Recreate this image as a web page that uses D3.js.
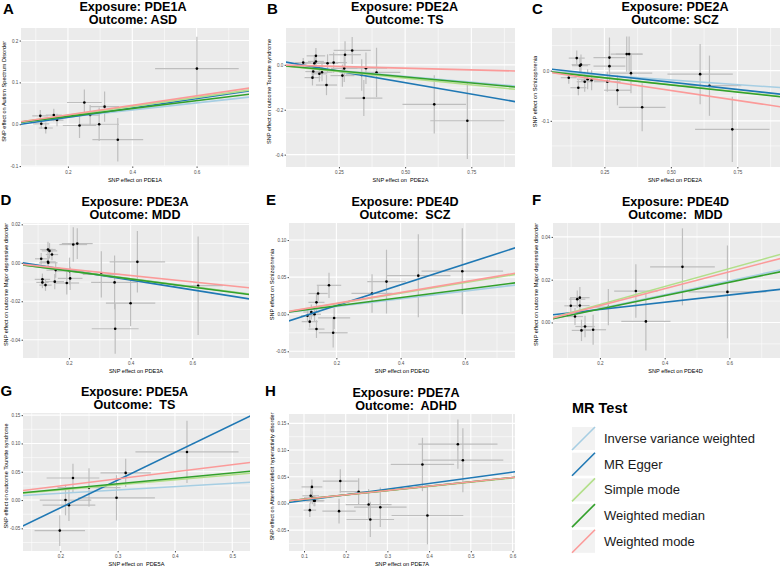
<!DOCTYPE html>
<html><head><meta charset="utf-8">
<script src="https://cdn.jsdelivr.net/npm/d3@7"></script>
<style>
body{margin:0;background:#fff;}
svg{display:block;font-family:"Liberation Sans",Arial,Helvetica,sans-serif;}
text{white-space:pre;}
</style></head><body>
<svg id="chart" width="780" height="566"></svg>
<script>
// ---------------- DATA ----------------
const methods = ["Inverse variance weighted","MR Egger","Simple mode","Weighted median","Weighted mode"];
const methodColors = ["#A6CEE3","#1F78B4","#B2DF8A","#33A02C","#FB9A99"];

// points: [beta exposure, beta outcome, se exposure, se outcome]
const ptsA = [[0.114,0.020,0.025,0.014],[0.117,0.001,0.025,0.012],[0.131,-0.009,0.022,0.013],[0.156,0.022,0.025,0.015],
  [0.166,0.010,0.020,0.015],[0.236,-0.003,0.052,0.030],[0.251,0.052,0.054,0.031],[0.269,0.022,0.030,0.024],
  [0.297,0.000,0.062,0.040],[0.314,0.042,0.045,0.036],[0.355,-0.037,0.079,0.052],[0.601,0.133,0.130,0.076]];
const ptsB = [[0.115,0.010,0.030,0.020],[0.153,-0.030,0.030,0.030],[0.150,-0.057,0.030,0.035],[0.157,0.007,0.040,0.030],
  [0.163,0.015,0.030,0.030],[0.163,0.040,0.035,0.035],[0.176,-0.040,0.030,0.035],[0.186,-0.033,0.040,0.040],
  [0.203,-0.090,0.040,0.045],[0.207,0.007,0.040,0.040],[0.230,0.010,0.050,0.045],[0.263,-0.048,0.045,0.050],
  [0.270,-0.016,0.050,0.060],[0.273,0.045,0.060,0.060],[0.300,0.064,0.070,0.060],[0.336,-0.045,0.060,0.070],
  [0.344,-0.148,0.070,0.080],[0.352,-0.015,0.080,0.070],[0.392,-0.034,0.090,0.110],[0.610,-0.176,0.120,0.130],
  [0.735,-0.249,0.140,0.170]];
const ptsC = [[0.116,-0.014,0.030,0.012],[0.146,0.025,0.030,0.015],[0.152,-0.034,0.030,0.015],[0.158,0.010,0.030,0.015],
  [0.162,0.012,0.035,0.020],[0.176,-0.022,0.030,0.020],[0.187,-0.017,0.040,0.020],[0.202,-0.019,0.040,0.020],
  [0.261,-0.022,0.050,0.020],[0.269,0.026,0.060,0.040],[0.269,0.009,0.060,0.030],[0.299,-0.039,0.050,0.030],
  [0.334,0.033,0.060,0.035],[0.343,0.033,0.050,0.035],[0.350,-0.005,0.080,0.040],[0.392,-0.073,0.088,0.048],
  [0.610,-0.007,0.123,0.060],[0.645,-0.030,0.120,0.060],[0.731,-0.117,0.140,0.065]];
const ptsD = [[0.110,0.0021,0.020,0.003],[0.114,-0.0086,0.025,0.003],[0.114,-0.0102,0.020,0.003],[0.124,-0.0116,0.020,0.003],
  [0.132,0.0069,0.025,0.004],[0.132,0.0005,0.025,0.003],[0.133,0.0000,0.030,0.003],[0.137,0.0062,0.025,0.004],
  [0.145,0.0043,0.020,0.003],[0.154,-0.0098,0.030,0.004],[0.157,-0.0038,0.030,0.004],[0.193,-0.0105,0.040,0.006],
  [0.202,-0.0043,0.045,0.007],[0.204,-0.0081,0.040,0.006],[0.214,0.0095,0.045,0.009],[0.227,0.0100,0.050,0.008],
  [0.305,-0.0060,0.060,0.012],[0.348,-0.0102,0.076,0.014],[0.350,-0.0343,0.076,0.013],[0.400,-0.0210,0.080,0.012],
  [0.422,0.0005,0.090,0.016],[0.619,-0.0119,0.080,0.0256]];
const ptsE = [[0.110,-0.002,0.020,0.008],[0.117,-0.010,0.025,0.008],[0.122,0.003,0.025,0.010],[0.132,0.000,0.020,0.010],
  [0.138,0.016,0.025,0.012],[0.138,-0.020,0.025,0.012],[0.143,0.028,0.030,0.010],[0.177,0.039,0.038,0.017],
  [0.193,-0.005,0.050,0.015],[0.190,-0.025,0.045,0.020],[0.311,0.028,0.064,0.026],[0.356,0.044,0.060,0.043],
  [0.455,0.052,0.100,0.056],[0.592,0.058,0.127,0.058]];
const ptsF = [[0.110,0.0078,0.020,0.004],[0.123,0.0028,0.025,0.004],[0.130,0.0109,0.025,0.004],[0.138,0.0116,0.030,0.005],
  [0.138,0.0079,0.030,0.004],[0.143,-0.0037,0.030,0.005],[0.154,-0.0019,0.030,0.005],[0.179,-0.0034,0.040,0.007],
  [0.226,0.0072,0.040,0.0085],[0.311,0.0147,0.067,0.0125],[0.342,0.0005,0.076,0.0136],[0.455,0.0260,0.100,0.018],
  [0.594,0.0143,0.120,0.0217]];
const ptsG = [[0.199,-0.054,0.044,0.027],[0.209,0.000,0.045,0.027],[0.215,-0.009,0.046,0.028],[0.222,0.039,0.046,0.025],
  [0.250,0.022,0.055,0.034],[0.298,0.004,0.067,0.040],[0.314,0.048,0.044,0.025],[0.421,0.085,0.090,0.055]];
const ptsH = [[0.114,-0.0125,0.015,0.013],[0.116,0.0144,0.020,0.015],[0.119,0.031,0.025,0.014],[0.120,0.0106,0.020,0.012],
  [0.124,0.005,0.025,0.010],[0.126,0.005,0.020,0.010],[0.184,-0.0144,0.040,0.023],[0.187,0.042,0.042,0.022],
  [0.231,0.022,0.045,0.025],[0.255,-0.002,0.055,0.029],[0.259,-0.030,0.057,0.033],[0.283,-0.007,0.063,0.037],
  [0.396,-0.0225,0.086,0.054],[0.384,0.073,0.076,0.050],[0.469,0.111,0.095,0.046],[0.481,0.081,0.097,0.060]];

// MR fits per method (same order as methods): [slope, intercept]
const fitA = [[0.085,0],[0.112,-0.006],[0.107,0],[0.094,0],[0.113,0]];
const fitB = [[-0.103,0],[-0.203,0.022],[-0.119,0],[-0.108,0],[-0.030,0]];
const fitC = [[-0.037,0],[-0.058,0.006],[-0.056,0],[-0.057,0],[-0.079,0]];
const fitD = [[-0.0207,0],[-0.0256,0.0013],[-0.0207,0],[-0.0210,0],[-0.0165,0]];
const fitE = [[0.052,0],[0.140,-0.0164],[0.071,0],[0.056,0],[0.073,0]];
const fitF = [[0.0324,0],[0.0169,0.0027],[0.042,0],[0.0313,0],[0.0395,0]];
const fitG = [[0.059,0],[0.489,-0.1115],[0.089,0],[0.096,0],[0.125,0]];
const fitH = [[0.081,0],[0.106,-0.0049],[0.080,0],[0.081,0],[0.081,0]];

// tick values and labels
const xTicksA = [0.2,0.4,0.6], xLabA = ["0.2","0.4","0.6"];
const yTicksA = [-0.1,0,0.1,0.2], yLabA = ["-0.1","0.0","0.1","0.2"];
const xTicksB = [0.25,0.5,0.75], xLabB = ["0.25","0.50","0.75"];
const yTicksB = [-0.4,-0.2,0], yLabB = ["-0.4","-0.2","0.0"];
const xTicksC = [0.25,0.5,0.75], xLabC = ["0.25","0.50","0.75"];
const yTicksC = [-0.1,0], yLabC = ["-0.1","0.0"];
const xTicksD = [0.2,0.4,0.6], xLabD = ["0.2","0.4","0.6"];
const yTicksD = [-0.04,-0.02,0,0.02], yLabD = ["-0.04","-0.02","0.00","0.02"];
const xTicksE = [0.2,0.4,0.6], xLabE = ["0.2","0.4","0.6"];
const yTicksE = [-0.05,0,0.05,0.1], yLabE = ["-0.05","0.00","0.05","0.10"];
const xTicksF = [0.2,0.4,0.6], xLabF = ["0.2","0.4","0.6"];
const yTicksF = [0,0.02,0.04], yLabF = ["0.00","0.02","0.04"];
const xTicksG = [0.2,0.3,0.4,0.5], xLabG = ["0.2","0.3","0.4","0.5"];
const yTicksG = [-0.05,0,0.05,0.1,0.15], yLabG = ["-0.05","0.00","0.05","0.10","0.15"];
const xTicksH = [0.1,0.2,0.3,0.4,0.5,0.6], xLabH = ["0.1","0.2","0.3","0.4","0.5","0.6"];
const yTicksH = [-0.05,0,0.05,0.1,0.15], yLabH = ["-0.05","0.00","0.05","0.10","0.15"];

// axis ranges (data units)
const xDomA = [0.054,0.763], yDomA = [-0.101,0.230];
const xDomB = [0.050,0.915], yDomB = [-0.455,0.164];
const xDomC = [0.053,0.978], yDomC = [-0.192,0.085];
const xDomD = [0.051,0.784], yDomD = [-0.0495,0.0207];
const xDomE = [0.0525,0.756], yDomE = [-0.059,0.123];
const xDomF = [0.055,0.812], yDomF = [-0.0166,0.0465];
const xDomG = [0.1348,0.531], yDomG = [-0.090,0.1538];
const xDomH = [0.064,0.606], yDomH = [-0.089,0.1675];

// ---------------- PANELS ----------------
const panels = [
 {letter:"A",exp:"PDE1A",out:"ASD",xt:"SNP effect on PDE1A",yt:"SNP effect on Autism Spectrum Disorder",pts:ptsA,fit:fitA,xd:xDomA,yd:yDomA,xt2:xTicksA,xl:xLabA,yt2:yTicksA,yl:yLabA,box:[21,28,249,166.5],lx:3,ly:14,tdx:-2},
 {letter:"B",exp:"PDE2A",out:"TS",xt:"SNP effect on  PDE2A",yt:"SNP effect on outcome Tourette syndrome",pts:ptsB,fit:fitB,xd:xDomB,yd:yDomB,xt2:xTicksB,xl:xLabB,yt2:yTicksB,yl:yLabB,box:[286,28,515,167],lx:267,ly:14,tdx:4},
 {letter:"C",exp:"PDE2A",out:"SCZ",xt:"SNP effect on PDE2A",yt:"SNP effect on Schizophrenia",pts:ptsC,fit:fitC,xd:xDomC,yd:yDomC,xt2:xTicksC,xl:xLabC,yt2:yTicksC,yl:yLabC,box:[552,28,798,167],lx:532,ly:14,tdx:0},
 {letter:"D",exp:"PDE3A",out:"MDD",xt:"SNP effect on PDE3A",yt:"SNP effect on outcome Major depressive disorder",pts:ptsD,fit:fitD,xd:xDomD,yd:yDomD,xt2:xTicksD,xl:xLabD,yt2:yTicksD,yl:yLabD,box:[23,223,249,358],lx:0.5,ly:205,tdx:-1},
 {letter:"E",exp:"PDE4D",out:" SCZ",xt:"SNP effect on PDE4D",yt:"SNP effect on Schizophrenia",pts:ptsE,fit:fitE,xd:xDomE,yd:yDomE,xt2:xTicksE,xl:xLabE,yt2:yTicksE,yl:yLabE,box:[289,223,515,358],lx:266,ly:205,tdx:3},
 {letter:"F",exp:"PDE4D",out:" MDD",xt:"SNP effect on PDE4D",yt:"SNP effect on outcome Major depressive disorder",pts:ptsF,fit:fitF,xd:xDomF,yd:yDomF,xt2:xTicksF,xl:xLabF,yt2:yTicksF,yl:yLabF,box:[553,223,798,358],lx:532,ly:205,tdx:0},
 {letter:"G",exp:"PDE5A",out:" TS",xt:"SNP effect on  PDE5A",yt:"SNP effect on outcome Tourette syndrome",pts:ptsG,fit:fitG,xd:xDomG,yd:yDomG,xt2:xTicksG,xl:xLabG,yt2:yTicksG,yl:yLabG,box:[23,413,250,551],lx:0.5,ly:396,tdx:-2},
 {letter:"H",exp:"PDE7A",out:" ADHD",xt:"SNP effect on PDE7A",yt:"SNP effect on Attention deficit hyperactivity disorder",pts:ptsH,fit:fitH,xd:xDomH,yd:yDomH,xt2:xTicksH,xl:xLabH,yt2:yTicksH,yl:yLabH,box:[289,414,515,551],lx:265,ly:396,tdx:4}
];

const svg = d3.select("#chart");
svg.append("rect").attr("width",780).attr("height",566).attr("fill","#fff");
const defs = svg.append("defs");

function minorOf(ticks, dom){
  const step = ticks.length>1 ? ticks[1]-ticks[0] : 0.1;
  const out = [];
  for (let v = ticks[0]-step/2; v <= dom[1]+1e-9; v += step) if (v >= dom[0]) out.push(v);
  return out;
}

panels.forEach((p,pi)=>{
  const [l,t,r,b] = p.box;
  const x = d3.scaleLinear().domain(p.xd).range([l,r]);
  const y = d3.scaleLinear().domain(p.yd).range([b,t]);
  const g = svg.append("g");
  const cid = "clip"+pi;
  defs.append("clipPath").attr("id",cid).append("rect").attr("x",l).attr("y",t).attr("width",r-l).attr("height",b-t);

  g.append("rect").attr("x",l).attr("y",t).attr("width",r-l).attr("height",b-t).attr("fill","#EBEBEB");
  const grid = g.append("g").attr("clip-path",`url(#${cid})`);
  minorOf(p.xt2,p.xd).forEach(v=>grid.append("line").attr("x1",x(v)).attr("x2",x(v)).attr("y1",t).attr("y2",b).attr("stroke","#fff").attr("stroke-width",0.55));
  minorOf(p.yt2,p.yd).forEach(v=>grid.append("line").attr("y1",y(v)).attr("y2",y(v)).attr("x1",l).attr("x2",r).attr("stroke","#fff").attr("stroke-width",0.55));
  p.xt2.forEach(v=>grid.append("line").attr("x1",x(v)).attr("x2",x(v)).attr("y1",t).attr("y2",b).attr("stroke","#fff").attr("stroke-width",1.1));
  p.yt2.forEach(v=>grid.append("line").attr("y1",y(v)).attr("y2",y(v)).attr("x1",l).attr("x2",r).attr("stroke","#fff").attr("stroke-width",1.1));

  const data = g.append("g").attr("clip-path",`url(#${cid})`);
  // error bars
  data.selectAll(".ev").data(p.pts).join("line")
    .attr("x1",d=>x(d[0])).attr("x2",d=>x(d[0]))
    .attr("y1",d=>y(d[1]-d[3])).attr("y2",d=>y(d[1]+d[3]))
    .attr("stroke","#BEBEBE").attr("stroke-width",1.2);
  data.selectAll(".eh").data(p.pts).join("line")
    .attr("y1",d=>y(d[1])).attr("y2",d=>y(d[1]))
    .attr("x1",d=>x(d[0]-d[2])).attr("x2",d=>x(d[0]+d[2]))
    .attr("stroke","#BEBEBE").attr("stroke-width",1.2);
  data.selectAll("circle").data(p.pts).join("circle")
    .attr("cx",d=>x(d[0])).attr("cy",d=>y(d[1])).attr("r",1.3).attr("fill","#000");
  // MR lines
  const line = d3.line().x(d=>x(d[0])).y(d=>y(d[1]));
  p.fit.forEach((f,i)=>{
    const xs = [p.xd[0]-0.05, p.xd[1]+0.05];
    data.append("path").attr("d",line(xs.map(v=>[v, f[1]+f[0]*v])))
      .attr("fill","none").attr("stroke",methodColors[i]).attr("stroke-width",1.6);
  });

  // axes
  const ax = g.append("g").attr("transform",`translate(0,${b})`)
    .call(d3.axisBottom(x).tickValues(p.xt2).tickFormat((d,i)=>p.xl[i]).tickSize(1.4).tickSizeOuter(0).tickPadding(2.4));
  const ay = g.append("g").attr("transform",`translate(${l},0)`)
    .call(d3.axisLeft(y).tickValues(p.yt2).tickFormat((d,i)=>p.yl[i]).tickSize(1.4).tickSizeOuter(0).tickPadding(1.2));
  [ax,ay].forEach(a=>{
    a.select(".domain").remove();
    a.selectAll(".tick line").attr("stroke","#333").attr("stroke-width",0.9);
    a.selectAll(".tick text").attr("fill","#4D4D4D").attr("font-size",4.6).attr("font-family","Liberation Sans, Arial, sans-serif");
  });

  // axis titles
  g.append("text").attr("x",(l+r)/2).attr("y",b+15).attr("text-anchor","middle")
    .attr("font-size",5.6).attr("fill","#000").text(p.xt);
  g.append("text").attr("transform",`translate(${l-15},${(t+b)/2-6}) rotate(-90)`).attr("text-anchor","middle")
    .attr("font-size",5.6).attr("fill","#000").text(p.yt);

  // titles
  const cx = (l+r)/2 + p.tdx;
  g.append("text").attr("x",cx).attr("y",t-17.5).attr("text-anchor","middle")
    .attr("font-size",12.6).attr("font-weight","bold").attr("fill","#000").text("Exposure: "+p.exp);
  g.append("text").attr("x",cx).attr("y",t-4.5).attr("text-anchor","middle")
    .attr("font-size",12.6).attr("font-weight","bold").attr("fill","#000").text("Outcome: "+p.out);
  g.append("text").attr("x",p.lx).attr("y",p.ly).attr("font-size",15).attr("font-weight","bold")
    .attr("fill","#000").text(p.letter);
});

// legend
const lg = svg.append("g");
lg.append("text").attr("x",572).attr("y",413).attr("font-size",14.5).attr("font-weight","bold").attr("fill","#000").text("MR Test");
methods.forEach((m,i)=>{
  const ky = 427 + i*25.7;
  lg.append("rect").attr("x",572).attr("y",ky).attr("width",23).attr("height",23).attr("fill","#F2F2F2");
  lg.append("line").attr("x1",572).attr("y1",ky+23).attr("x2",595).attr("y2",ky).attr("stroke",methodColors[i]).attr("stroke-width",1.6);
  lg.append("text").attr("x",604).attr("y",ky+16).attr("font-size",13).attr("fill","#1a1a1a").text(m);
});
</script>
</body></html>
